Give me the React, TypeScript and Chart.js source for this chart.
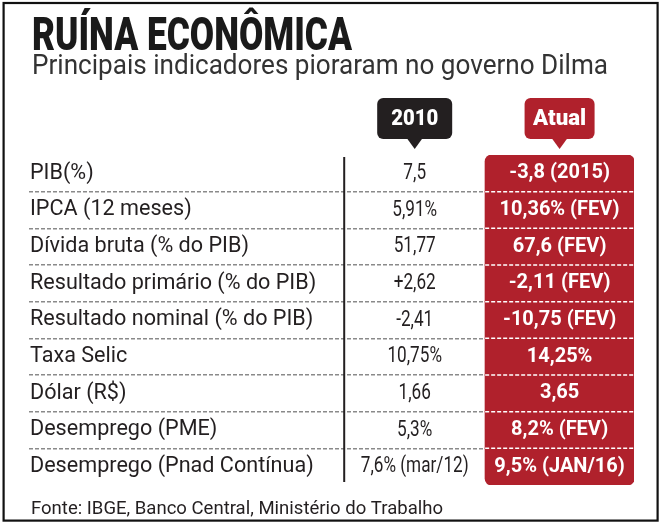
import { useEffect, useRef } from 'react';
import { Chart, registerables } from 'chart.js';

Chart.register(...registerables);

// ---- data ----
const TITLE = 'RUÍNA ECONÔMICA';
const SUBTITLE = 'Principais indicadores pioraram no governo Dilma';
const SOURCE = 'Fonte: IBGE, Banco Central, Ministério do Trabalho';
const columnHeaders = ['2010', 'Atual'];
const indicators = [
  'PIB(%)',
  'IPCA (12 meses)',
  'Dívida bruta (% do PIB)',
  'Resultado primário (% do PIB)',
  'Resultado nominal (% do PIB)',
  'Taxa Selic',
  'Dólar (R$)',
  'Desemprego (PME)',
  'Desemprego (Pnad Contínua)',
];
const values2010 = ['7,5', '5,91%', '51,77', '+2,62', '-2,41', '10,75%', '1,66', '5,3%', '7,6% (mar/12)'];
const valuesAtual = [
  '-3,8 (2015)',
  '10,36% (FEV)',
  '67,6 (FEV)',
  '-2,11 (FEV)',
  '-10,75 (FEV)',
  '14,25%',
  '3,65',
  '8,2% (FEV)',
  '9,5% (JAN/16)',
];

// ---- layout (x scale units: 0..100 = table width) ----
const X_MIN = 0;
const X_MAX = 100;
const SPLIT_2010 = 52.1;
const SPLIT_ATUAL = 75.4;

const RED = '#b0212c';
const INK = '#231f20';
const FONT = 'Roboto, "Noto Sans", sans-serif';

function measure(ctx: CanvasRenderingContext2D, text: string, font: string) {
  ctx.save();
  ctx.font = font;
  const w = ctx.measureText(text).width;
  ctx.restore();
  return w;
}

function drawText(
  ctx: CanvasRenderingContext2D,
  text: string,
  x: number,
  y: number,
  font: string,
  color: string,
  align: CanvasTextAlign,
  scaleX: number,
  baseline: CanvasTextBaseline = 'alphabetic'
) {
  ctx.save();
  ctx.font = font;
  ctx.fillStyle = color;
  ctx.textAlign = align;
  ctx.textBaseline = baseline;
  ctx.translate(x, y);
  ctx.scale(scaleX, 1);
  ctx.fillText(text, 0, 0);
  ctx.restore();
}

function drawFitted(
  ctx: CanvasRenderingContext2D,
  text: string,
  x: number,
  y: number,
  font: string,
  color: string,
  width: number,
  align: CanvasTextAlign = 'left',
  baseline: CanvasTextBaseline = 'alphabetic'
) {
  const s = width / measure(ctx, text, font);
  drawText(ctx, text, x, y, font, color, align, s, baseline);
}

function drawTab(
  ctx: CanvasRenderingContext2D,
  cx: number,
  top: number,
  bottom: number,
  tip: number,
  w: number,
  color: string,
  text: string,
  textWidth: number
) {
  ctx.save();
  ctx.fillStyle = color;
  ctx.beginPath();
  (ctx as any).roundRect(cx - w / 2, top, w, bottom - top, 6);
  ctx.fill();
  ctx.beginPath();
  ctx.moveTo(cx - 8, bottom - 1);
  ctx.lineTo(cx, tip);
  ctx.lineTo(cx + 8, bottom - 1);
  ctx.closePath();
  ctx.fill();
  ctx.restore();
  drawFitted(ctx, text, cx, (top + bottom) / 2 + 1, `900 22px ${FONT}`, '#ffffff', textWidth, 'center', 'middle');
}

const tablePlugin = {
  id: 'tableDecor',
  beforeDraw(chart: any) {
    const { ctx, width, height } = chart;
    ctx.save();
    ctx.fillStyle = '#ffffff';
    ctx.fillRect(0, 0, width, height);
    ctx.restore();
  },
  afterDatasetsDraw(chart: any) {
    const { ctx, chartArea, scales } = chart;
    const x = scales.x;
    const y = scales.y;
    const xa = x.getPixelForValue(SPLIT_ATUAL);
    const xb = x.getPixelForValue(X_MAX);

    // white dashed separators on the red column
    ctx.save();
    ctx.strokeStyle = '#ffffff';
    ctx.lineWidth = 1.5;
    ctx.setLineDash([4, 2]);
    for (let i = 1; i < indicators.length; i++) {
      const yy = (y.getPixelForValue(i - 1) + y.getPixelForValue(i)) / 2;
      ctx.beginPath();
      ctx.moveTo(xa, yy);
      ctx.lineTo(xb, yy);
      ctx.stroke();
    }
    ctx.restore();

    // vertical divider
    const xv = x.getPixelForValue(SPLIT_2010);
    ctx.save();
    ctx.strokeStyle = INK;
    ctx.lineWidth = 2;
    ctx.beginPath();
    ctx.moveTo(xv, chartArea.top + 2);
    ctx.lineTo(xv, chartArea.bottom - 3);
    ctx.stroke();
    ctx.restore();

    const c2010 = x.getPixelForValue((SPLIT_2010 + SPLIT_ATUAL) / 2);
    const cAtual = x.getPixelForValue((SPLIT_ATUAL + X_MAX) / 2);

    values2010.forEach((v, i) => {
      drawText(ctx, v, c2010, y.getPixelForValue(i), `22px ${FONT}`, INK, 'center', 0.78, 'middle');
    });
    valuesAtual.forEach((v, i) => {
      drawText(ctx, v, cAtual, y.getPixelForValue(i), `bold 20px ${FONT}`, '#ffffff', 'center', 1, 'middle');
    });

    // column header tabs
    const top = chartArea.top - 57;
    const bottom = chartArea.top - 16;
    const tip = chartArea.top - 6;
    drawTab(ctx, c2010, top, bottom, tip, 75, INK, columnHeaders[0], 47);
    drawTab(ctx, cAtual, top, bottom, tip, 70, RED, columnHeaders[1], 53);
  },
  afterDraw(chart: any) {
    const { ctx } = chart;
    drawFitted(ctx, TITLE, 32, 50, `900 46px ${FONT}`, '#1a1a1a', 320);
    drawFitted(ctx, SUBTITLE, 32, 74, `27px ${FONT}`, '#333333', 576);
    drawFitted(ctx, SOURCE, 31, 514, `19px ${FONT}`, INK, 412);
    ctx.save();
    ctx.strokeStyle = '#111111';
    ctx.lineWidth = 2.2;
    ctx.strokeRect(3.6, 3, 654, 517.6);
    ctx.restore();
  },
};

export default function App() {
  const ref = useRef<HTMLCanvasElement | null>(null);

  useEffect(() => {
    const canvas = ref.current;
    if (!canvas) return;
    const last = indicators.length - 1;
    const chart = new Chart(canvas, {
      type: 'bar',
      data: {
        labels: indicators,
        datasets: [
          {
            label: 'Atual',
            data: indicators.map(() => [SPLIT_ATUAL, X_MAX]) as any,
            backgroundColor: RED,
            borderWidth: 0,
            borderSkipped: false,
            inflateAmount: 0.5,
            barPercentage: 1,
            categoryPercentage: 1,
            borderRadius: (c: any) =>
              c.dataIndex === 0
                ? { topLeft: 7, topRight: 7, bottomLeft: 0, bottomRight: 0 }
                : c.dataIndex === last
                ? { topLeft: 0, topRight: 0, bottomLeft: 7, bottomRight: 7 }
                : 0,
          } as any,
        ],
      },
      options: {
        indexAxis: 'y',
        responsive: false,
        animation: false,
        devicePixelRatio: 1,
        layout: { padding: { left: 27, right: 28, top: 155, bottom: 41 } },
        plugins: {
          legend: { display: false },
          tooltip: { enabled: false },
          title: { display: false },
        },
        scales: {
          x: { type: 'linear', min: X_MIN, max: X_MAX, display: false },
          y: {
            type: 'category',
            offset: true,
            grid: {
              offset: true,
              drawTicks: false,
              lineWidth: 1.5,
              color: (c: any) =>
                c.index === undefined || c.index === 0 ? 'rgba(0,0,0,0)' : '#8a8a8a',
            },
            border: { display: false, dash: [4, 2] },
            ticks: {
              mirror: true,
              padding: 1,
              autoSkip: false,
              color: INK,
              font: { family: FONT, size: 21.6 },
            },
          },
        },
      } as any,
      plugins: [tablePlugin],
    });
    return () => chart.destroy();
  }, []);

  return (
    <div style={{ position: 'fixed', left: 0, top: 0, width: 662, height: 526 }}>
      <canvas ref={ref} width={662} height={526} style={{ display: 'block' }} />
    </div>
  );
}
